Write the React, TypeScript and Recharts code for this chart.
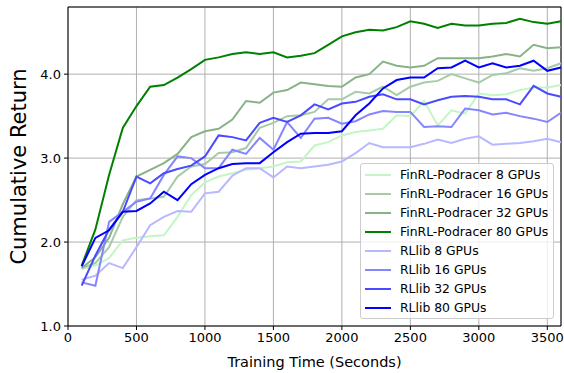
import React from "react";
import { LineChart, Line, XAxis, YAxis, CartesianGrid, Legend, ReferenceLine } from "recharts";

const FONT = "DejaVu Sans, sans-serif";

const times = [
  100, 200, 300, 400, 500, 600, 700, 800, 900, 1000, 1100, 1200,
  1300, 1400, 1500, 1600, 1700, 1800, 1900, 2000, 2100, 2200, 2300, 2400,
  2500, 2600, 2700, 2800, 2900, 3000, 3100, 3200, 3300, 3400, 3500, 3600,
];

const finrl8 = [
  1.68, 1.72, 1.81, 2.02, 2.05, 2.07, 2.08, 2.3, 2.56, 2.71, 2.78, 2.82,
  2.86, 2.88, 2.9, 2.95, 2.96, 3.15, 3.19, 3.27, 3.31, 3.33, 3.35, 3.51,
  3.5, 3.68, 3.39, 3.57, 3.53, 3.77, 3.75, 3.76, 3.81, 3.84, 3.84, 3.87,
];
const finrl16 = [
  1.69, 1.75, 1.94, 2.3, 2.5, 2.52, 2.54, 2.78, 2.9, 2.93, 3.06, 3.07,
  3.12, 3.36, 3.42, 3.5, 3.51, 3.55, 3.7, 3.7, 3.79, 3.77, 3.85, 3.75,
  3.85, 3.9, 3.92, 4.0, 3.95, 3.9, 3.99, 4.01, 4.07, 4.04, 4.07, 4.13,
];
const finrl32 = [
  1.69, 1.82, 2.05, 2.45, 2.78, 2.86, 2.94, 3.05, 3.25, 3.32, 3.35, 3.46,
  3.68, 3.66, 3.78, 3.81, 3.9, 3.88, 3.86, 3.85, 3.96, 4.0, 4.15, 4.1,
  4.08, 4.1, 4.19, 4.19, 4.19, 4.19, 4.21, 4.24, 4.21, 4.35, 4.31, 4.32,
];
const finrl80 = [
  1.72, 2.15, 2.8, 3.36, 3.62, 3.85, 3.87, 3.96, 4.06, 4.17, 4.2, 4.24,
  4.26, 4.24, 4.26, 4.2, 4.22, 4.25, 4.35, 4.45, 4.5, 4.53, 4.52, 4.56,
  4.63, 4.6, 4.55, 4.6, 4.58, 4.58, 4.6, 4.61, 4.66, 4.62, 4.6, 4.63,
];
const rllib8 = [
  1.55, 1.6, 1.75, 1.69, 1.94, 2.2, 2.3, 2.37, 2.36, 2.58, 2.6, 2.79,
  2.88, 2.88, 2.77, 2.9, 2.88, 2.9, 2.92, 2.96, 3.06, 3.18, 3.13, 3.13,
  3.13, 3.17, 3.22, 3.18, 3.23, 3.26, 3.16, 3.17, 3.18, 3.2, 3.23, 3.19,
];
const rllib16 = [
  1.52, 1.48, 2.24, 2.36, 2.48, 2.52, 2.8, 3.02, 3.0, 2.88, 2.88, 3.1,
  3.05, 3.24, 3.1, 3.43, 3.24, 3.47, 3.48, 3.41, 3.44, 3.52, 3.56, 3.55,
  3.55, 3.37, 3.38, 3.37, 3.59, 3.57, 3.52, 3.54, 3.5, 3.47, 3.43, 3.54,
];
const rllib32 = [
  1.48, 1.84, 2.15, 2.36, 2.78, 2.7, 2.82, 2.87, 2.91, 3.02, 3.27, 3.25,
  3.21, 3.42, 3.48, 3.43, 3.51, 3.64, 3.58, 3.65, 3.67, 3.73, 3.76, 3.7,
  3.7, 3.64, 3.69, 3.73, 3.74, 3.73, 3.7, 3.7, 3.64, 3.86, 3.77, 3.73,
];
const rllib80 = [
  1.71, 2.05, 2.14, 2.36, 2.37, 2.46, 2.6, 2.5, 2.69, 2.8, 2.88, 2.93,
  2.94, 2.94, 3.07, 3.19, 3.29, 3.3, 3.3, 3.32, 3.51, 3.65, 3.83, 3.93,
  3.96, 3.96, 4.07, 4.08, 4.16, 4.08, 4.13, 4.08, 4.1, 4.16, 4.04, 4.08,
];

const xTicks = [0, 500, 1000, 1500, 2000, 2500, 3000, 3500];
const yTicks = [1, 2, 3, 4];

const series = [
  { key: "finrl8", name: "FinRL-Podracer 8 GPUs", values: finrl8, color: "#c4f5c4" },
  { key: "finrl16", name: "FinRL-Podracer 16 GPUs", values: finrl16, color: "#a6cba6" },
  { key: "finrl32", name: "FinRL-Podracer 32 GPUs", values: finrl32, color: "#88b388" },
  { key: "finrl80", name: "FinRL-Podracer 80 GPUs", values: finrl80, color: "#008000" },
  { key: "rllib8", name: "RLlib 8 GPUs", values: rllib8, color: "#b8b8ff" },
  { key: "rllib16", name: "RLlib 16 GPUs", values: rllib16, color: "#8585ff" },
  { key: "rllib32", name: "RLlib 32 GPUs", values: rllib32, color: "#4a4aff" },
  { key: "rllib80", name: "RLlib 80 GPUs", values: rllib80, color: "#0000ff" },
];

const data = times.map((t, i) => {
  const row: Record<string, number> = { t };
  series.forEach((s) => (row[s.key] = s.values[i]));
  return row;
});

function YLabel(props: any) {
  const vb = props.viewBox || {};
  const cy = vb.y + vb.height / 2;
  return (
    <text x={19} y={cy} transform={`rotate(-90 19 ${cy})`} textAnchor="middle" dominantBaseline="central"
      fontFamily={FONT} fontSize={21} fill="#000">
      Cumulative Return
    </text>
  );
}

function LegendBox({ payload }: any) {
  const order = series.map((s) => s.name);
  const items = [...(payload || [])].sort((a: any, b: any) => order.indexOf(a.value) - order.indexOf(b.value));
  return (
    <div style={{
      background: "rgba(255,255,255,0.8)", border: "1px solid #cccccc", borderRadius: 3,
      padding: "1px 4px 1px 4px", fontFamily: FONT, fontSize: 12.4, width: 184,
    }}>
      {items.map((p: any) => (
        <div key={p.value} style={{ display: "flex", alignItems: "center", height: 19 }}>
          <svg width={26} height={4} style={{ flex: "none" }}>
            <line x1={0} y1={2} x2={26} y2={2} stroke={p.color} strokeWidth={2} />
          </svg>
          <span style={{ marginLeft: 9, color: "#000", whiteSpace: "nowrap" }}>{p.value}</span>
        </div>
      ))}
    </div>
  );
}

export default function App() {
  return (
    <div style={{ position: "fixed", left: 0, top: 0, background: "#fff" }}>
      <LineChart width={564} height={373} data={data} margin={{ top: 7, right: 3, bottom: 0, left: 0 }}>
        <CartesianGrid stroke="#b0b0b0" strokeWidth={1} />
        <XAxis
          dataKey="t" type="number" domain={[0, 3600]} ticks={xTicks} height={47}
          stroke="#000" tickSize={4} tickMargin={3}
          tick={{ fill: "#000", fontSize: 13, fontFamily: FONT }}
          label={{ value: "Training Time (Seconds)", position: "insideBottom", offset: 6, fill: "#000", fontSize: 14.5, fontFamily: FONT }}
        />
        <YAxis
          type="number" domain={[1, 4.8]} ticks={yTicks} width={68}
          stroke="#000" tickSize={4} tickMargin={3}
          tickFormatter={(v: number) => v.toFixed(1)}
          tick={{ fill: "#000", fontSize: 13, fontFamily: FONT }}
          label={<YLabel />}
        />
        <ReferenceLine y={4.8} stroke="#000" strokeWidth={1} />
        <ReferenceLine x={3600} stroke="#000" strokeWidth={1} />
        {series.map((s) => (
          <Line key={s.key} dataKey={s.key} name={s.name} type="linear" stroke={s.color}
            strokeWidth={2} dot={false} activeDot={false} isAnimationActive={false} />
        ))}
        <Legend layout="vertical" align="center" verticalAlign="middle" content={<LegendBox />}
          wrapperStyle={{ position: "absolute", left: 360, top: 163, width: "auto", height: "auto" }} />
      </LineChart>
    </div>
  );
}
